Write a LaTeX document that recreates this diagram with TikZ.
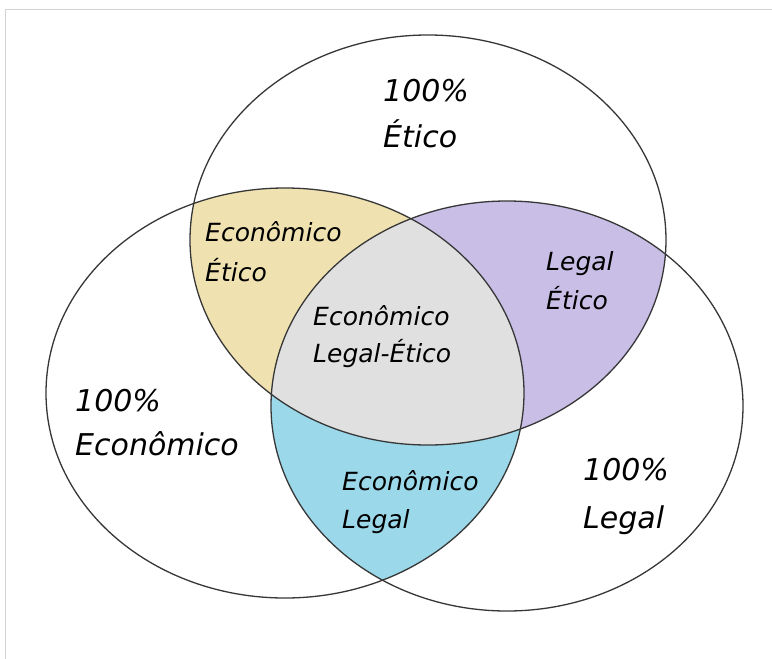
\documentclass[tikz,border=0pt]{standalone}
\usepackage{fontspec}
\setmainfont{DejaVu Sans}
\newfontfamily\handfont[ItalicFont={DejaVu Sans Oblique}]{DejaVu Sans}
\definecolor{cyellow}{RGB}{240,226,176}
\definecolor{cpurple}{RGB}{200,190,230}
\definecolor{ccyan}{RGB}{155,216,233}
\definecolor{cgrey}{RGB}{224,224,224}
\definecolor{cline}{RGB}{55,55,55}
\definecolor{cframe}{RGB}{210,210,210}
\begin{document}
\begin{tikzpicture}[x=1pt,y=-1pt,
  outline/.style={draw=cline,line width=1.3pt},
  lbl/.style={anchor=base west,inner sep=0pt,font=\handfont\itshape\fontsize{25}{29}\selectfont},
  biglbl/.style={anchor=base west,inner sep=0pt,font=\handfont\itshape\fontsize{30}{34}\selectfont}]
\useasboundingbox (0,0) rectangle (772,659);
\fill[white] (0,0) rectangle (772,659);
\draw[cframe,line width=1pt] (5,659) -- (5,9) -- (772,9);
\def\etico{(428,240) ellipse [x radius=238pt, y radius=205pt]}
\def\econ{(285,393) ellipse [x radius=239pt, y radius=205pt]}
\def\legal{(507,406) ellipse [x radius=236pt, y radius=205pt]}
% yellow: Etico and Economico
\begin{scope}
  \clip \etico;
  \fill[cyellow] \econ;
\end{scope}
% purple: Etico and Legal
\begin{scope}
  \clip \etico;
  \fill[cpurple] \legal;
\end{scope}
% cyan: Economico and Legal
\begin{scope}
  \clip \econ;
  \fill[ccyan] \legal;
\end{scope}
% grey: all three
\begin{scope}
  \clip \etico;
  \clip \econ;
  \fill[cgrey] \legal;
\end{scope}
\draw[outline] \etico;
\draw[outline] \econ;
\draw[outline] \legal;
% labels
\node[biglbl] (t1) at (383,101) {100\%};
\node[biglbl] (t2) at (383,147) {Ético};
\node[lbl] (y1) at (205,241) {Econômico};
\node[lbl] (y2) at (205,281) {Ético};
\node[lbl] (p1) at (546,270) {Legal};
\node[lbl] (p2) at (546,309) {Ético};
\node[lbl] (g1) at (313,325) {Econômico};
\node[lbl] (g2) at (313,362) {Legal-Ético};
\node[biglbl] (l1) at (75,411) {100\%};
\node[biglbl] (l2) at (75,455) {Econômico};
\node[lbl] (c1) at (342,490) {Econômico};
\node[lbl] (c2) at (342,528) {Legal};
\node[biglbl] (r1) at (583,480) {100\%};
\node[biglbl] (r2) at (583,528) {Legal};
\end{tikzpicture}
\end{document}
